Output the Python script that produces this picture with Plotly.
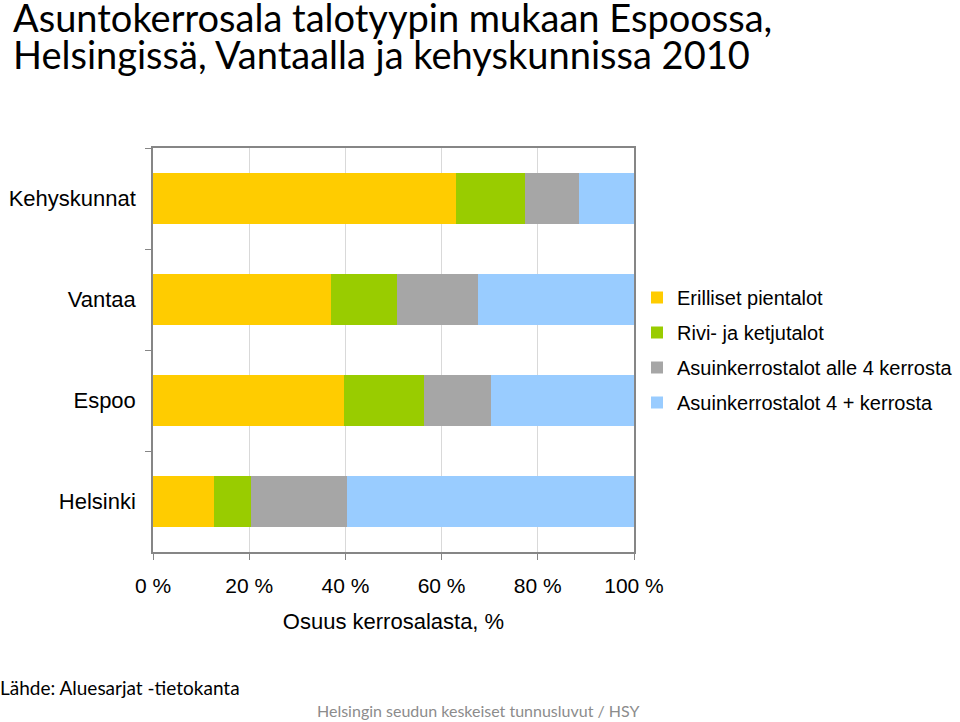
import plotly.graph_objects as go

categories = ["Kehyskunnat", "Vantaa", "Espoo", "Helsinki"]
series_names = ["Erilliset pientalot", "Rivi- ja ketjutalot",
                "Asuinkerrostalot alle 4 kerrosta", "Asuinkerrostalot 4 + kerrosta"]
erilliset = [62.9, 37.1, 39.8, 12.7]
rivi = [14.4, 13.7, 16.5, 7.7]
alle4 = [11.2, 16.7, 14.0, 20.0]
yli4 = [11.5, 32.5, 29.7, 59.6]
series_values = [erilliset, rivi, alle4, yli4]
colors = ["#FFCC00", "#99CC00", "#A6A6A6", "#99CCFF"]
x_tickvals = [0, 20, 40, 60, 80, 100]
x_ticktext = ["0 %", "20 %", "40 %", "60 %", "80 %", "100 %"]

fig = go.Figure()
for i, (name, vals, col) in enumerate(zip(series_names, series_values, colors)):
    fig.add_trace(go.Bar(
        y=categories, x=vals, name=name, orientation="h",
        marker=dict(color=col, line=dict(width=0)),
        legendgroup=f"g{i}",
    ))

W, H = 960, 722
L, R, T, B = 153, 634, 148, 552


def px(xp):
    return (xp - L) / (R - L)


def py(yp):
    return 1 - (yp - T) / (B - T)


fig.update_layout(
    width=W, height=H,
    margin=dict(l=L, r=W - R, t=T, b=H - B, pad=0, autoexpand=False),
    barmode="stack", bargap=0.5,
    plot_bgcolor="white", paper_bgcolor="white",
    font=dict(family="Liberation Sans, Arial, sans-serif", size=21, color="#000000"),
    showlegend=True,
    legend=dict(
        x=637 / W, xanchor="left", xref="container",
        y=1 - 278 / H, yanchor="top", yref="container",
        font=dict(size=20, color="#000000"),
        traceorder="grouped", tracegroupgap=6,
        bgcolor="rgba(0,0,0,0)", borderwidth=0,
    ),
)

fig.update_xaxes(
    range=[0, 100], tickvals=x_tickvals, ticktext=x_ticktext,
    showgrid=True, gridcolor="#D9D9D9", gridwidth=1,
    showline=True, linecolor="#868686", linewidth=1.5, mirror=True,
    ticks="outside", ticklen=6, tickcolor="#868686",
    ticklabelstandoff=8,
    tickfont=dict(size=21),
    zeroline=False, automargin=False,
    title=dict(text="Osuus kerrosalasta, %", font=dict(size=22), standoff=18),
    fixedrange=True,
)
fig.update_yaxes(
    categoryorder="array", categoryarray=categories, autorange="reversed",
    showgrid=False, showline=True, linecolor="#868686", linewidth=1.5, mirror=True,
    ticks="outside", ticklen=6, tickcolor="#868686", tickson="boundaries",
    ticklabelstandoff=11, automargin=False,
    tickfont=dict(size=22),
    fixedrange=True,
)

title_font = dict(family="Lato, Open Sans, sans-serif", size=38, color="#000000")
fig.add_annotation(text="Asuntokerrosala talotyypin mukaan Espoossa,",
                   x=px(11), y=py(17), xref="paper", yref="paper",
                   xanchor="left", yanchor="middle", showarrow=False, font=title_font)
fig.add_annotation(text="Helsingissä, Vantaalla ja kehyskunnissa 2010",
                   x=px(11), y=py(54), xref="paper", yref="paper",
                   xanchor="left", yanchor="middle", showarrow=False, font=title_font)
fig.add_annotation(text="Lähde: Aluesarjat -tietokanta",
                   x=px(-2), y=py(687), xref="paper", yref="paper",
                   xanchor="left", yanchor="middle", showarrow=False,
                   font=dict(family="Lato, Open Sans, sans-serif", size=19, color="#000000"))
fig.add_annotation(text="Helsingin seudun keskeiset tunnusluvut / HSY",
                   x=px(315), y=py(710), xref="paper", yref="paper",
                   xanchor="left", yanchor="middle", showarrow=False,
                   font=dict(family="Lato, Open Sans, sans-serif", size=16, color="#8C8C8C"))

fig.write_html("out.html", config={"displayModeBar": False},
               post_script="document.body.style.margin='0px';")
